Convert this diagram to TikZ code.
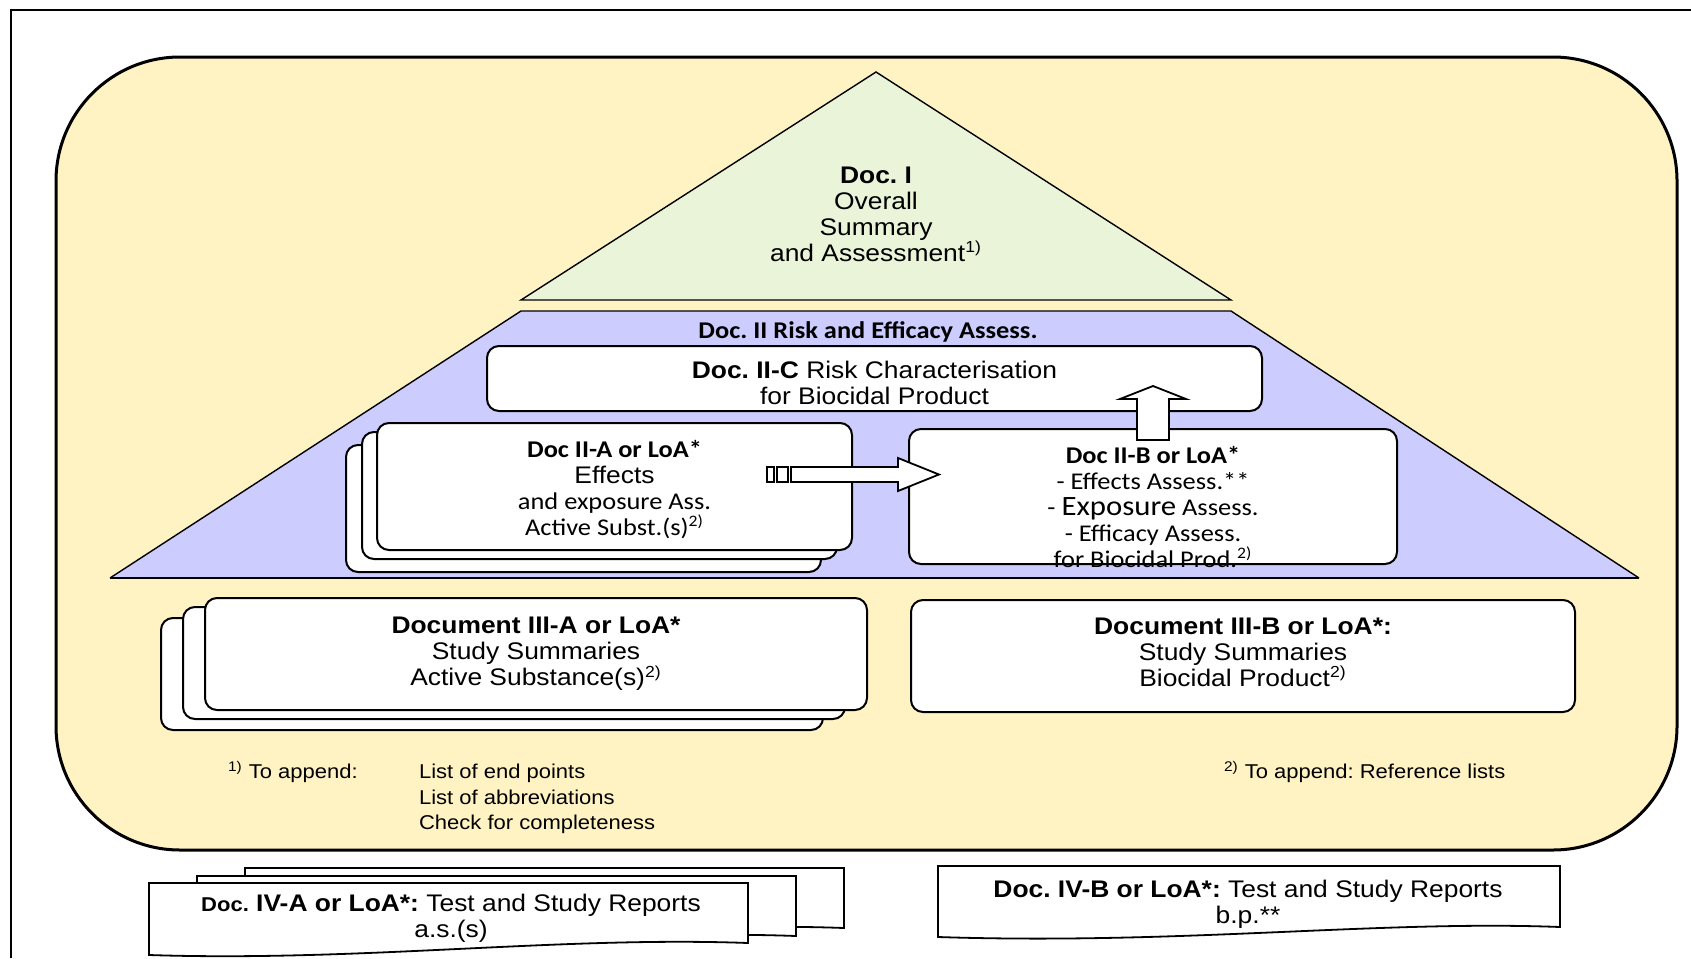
\documentclass[tikz,border=0pt]{standalone}
\usepackage{fontspec}
\setmainfont{Liberation Sans}[FakeStretch=1.1]
\newfontfamily\calibri{Carlito}[FakeStretch=1.1]
\usetikzlibrary{calc}
\frenchspacing

\definecolor{baseYellow}{RGB}{255,243,196}
\definecolor{topGreen}{RGB}{233,244,216}
\definecolor{midBlue}{RGB}{204,204,255}

\begin{document}
\begin{tikzpicture}[x=0.5pt, y=-0.5pt,
    docbox/.style={draw, fill=white, line width=1pt, rounded corners=6pt, align=center, inner sep=0pt},
    fatarrow/.style={draw, fill=white, line width=0.9pt},
    reportsheet/.style={draw, fill=white, line width=0.9pt},
    textA/.style={font=\fontsize{12}{13}\selectfont, align=center},
    textC/.style={font=\calibri\fontsize{12}{13}\selectfont, align=center}]

  \useasboundingbox (0,0) rectangle (1691,958);
  \draw[line width=1.1pt] (11,958) -- (11,10) -- (1691,10);

  \draw[fill=baseYellow, line width=1.5pt, rounded corners=62pt] (56,57) rectangle (1677,850);

  \draw[fill=topGreen, line width=0.7pt] (876,72) -- (1231,300) -- (521,300) -- cycle;
  \node[textA] (docI) at (876,214)
    {\textbf{Doc. I}\\Overall\\Summary\\and Assessment\textsuperscript{1)}};

  \fill[midBlue] (521,311) -- (1231,311) -- (1639,578) -- (110,578) -- cycle;
  \draw[line width=0.7pt] (110,578) -- (521,311) -- (1231,311) -- (1639,578);
  \draw[line width=1.2pt] (110,578) -- (1639,578);
  \node[textC] (docII) at (868,332) {\textbf{Doc. II Risk and Efficacy Assess.}};

  \node[docbox, minimum width=387.5pt, minimum height=32.5pt] (iiC) at (874.5,378.5) {};
  \node[textA] (iiCtext) at ($(iiC.center)+(0,4)$)
    {\textbf{Doc. II-C} Risk Characterisation\\for Biocidal Product};

  \foreach \cx/\cy/\k in {583.5/508.5/2, 599.5/495.5/1}
    \node[docbox, minimum width=237.5pt, minimum height=63.5pt] (iiAcopy\k) at (\cx,\cy) {};
  \node[docbox, minimum width=237.5pt, minimum height=63.5pt] (iiA) at (614.5,486.5) {};
  \node[textC] (iiAtext) at ($(iiA.center)+(0,3)$)
    {\textbf{Doc II-A or LoA*}\\{\rmfamily Effects}\\and exposure Ass.\\Active Subst.(s)\textsuperscript{2)}};

  \node[docbox, minimum width=244pt, minimum height=67.5pt] (iiB) at (1153,496.5) {};
  \node[textC] (iiBtext) at ($(iiB.center)+(0,10.5)$)
    {\textbf{Doc II-B or LoA*}\\- Effects Assess.**\\- {\fontsize{14}{13}\selectfont Exposure} Assess.\\- Efficacy Assess.\\for Biocidal Prod.\textsuperscript{2)}};

  \draw[fatarrow] ([shift={(-86,-19.5)}]iiA.east) rectangle ++(7,15);
  \draw[fatarrow] ([shift={(-76,-19.5)}]iiA.east) rectangle ++(11,15);
  \draw[fatarrow] ([shift={(-62,-19.5)}]iiA.east) -- ++(107,0) -- ++(0,-9) -- ++(41,16.5)
    -- ++(-41,16.5) -- ++(0,-9) -- ++(-107,0) -- cycle;

  \draw[fatarrow] ([shift={(-16,12)}]iiB.north) -- ++(0,-41) -- ++(-17,0) -- ++(33,-13)
    -- ++(33,13) -- ++(-17,0) -- ++(0,41) -- cycle;

  \foreach \cx/\cy/\k in {492/674/2, 514/663/1}
    \node[docbox, minimum width=331pt, minimum height=56pt] (iiiAcopy\k) at (\cx,\cy) {};
  \node[docbox, textA, minimum width=331pt, minimum height=56pt] (iiiA) at (536,654)
    {\textbf{Document III-A or LoA*}\\Study Summaries\\Active Substance(s)\textsuperscript{2)}};
  \node[docbox, minimum width=332pt, minimum height=56pt] (iiiB) at (1243,656) {};
  \node[textA] (iiiBtext) at ($(iiiB.center)+(0,-4)$)
    {\textbf{Document III-B or LoA*:}\\Study Summaries\\Biocidal Product\textsuperscript{2)}};

  \node[anchor=west, font=\fontsize{10}{12.7}\selectfont] (noteA) at (221,799)
    {\begin{tabular}{@{}p{95.5pt}@{}l@{}}
      \textsuperscript{1)} To append: & List of end points\\
                                      & List of abbreviations\\
                                      & Check for completeness
    \end{tabular}};
  \node[anchor=west, font=\fontsize{10}{12.7}\selectfont] (noteB) at (1217,772)
    {\textsuperscript{2)} To append: Reference lists};

  \foreach \dx/\dy in {96/-15, 48/-7, 0/0}
    \draw[reportsheet, shift={(\dx,\dy)}] (149,883) -- (748,883) -- (748,943)
      .. controls (560,936) and (360,962) .. (149,955) -- cycle;
  \node[textA] (ivA) at (451,918)
    {{\fontsize{10}{13}\selectfont\textbf{Doc.}} \textbf{IV-A or LoA*:} Test and Study Reports\\a.s.(s)};

  \draw[reportsheet] (938,866) -- (1560,866) -- (1560,927)
    .. controls (1380,920) and (1180,945) .. (938,937) -- cycle;
  \node[textA] (ivB) at (1248,904)
    {\textbf{Doc. IV-B or LoA*:} Test and Study Reports\\b.p.**};

\end{tikzpicture}
\end{document}
